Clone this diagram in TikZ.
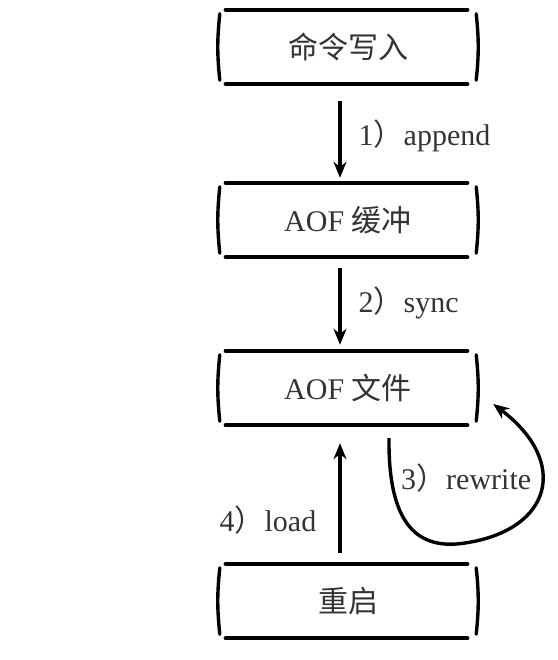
\documentclass[tikz,border=0pt]{standalone}
\usepackage{fontspec}
\setmainfont{Liberation Serif}
\newfontfamily\cjk{Noto Sans CJK SC}
\usetikzlibrary{arrows.meta}

\definecolor{ink}{HTML}{333333}

\tikzset{
  stage/.style={minimum width=256pt, minimum height=74pt, inner sep=0pt,
    text=ink, font=\fontsize{30}{32}\selectfont},
  rim/.style={line width=4.4pt, line cap=round},
  side/.style={line width=3.4pt, line cap=round},
  flow/.style={line width=3.4pt, -{Stealth[length=16pt,width=13pt]}},
  tag/.style={text=ink, font=\fontsize{30}{32}\selectfont, inner sep=0pt}
}

\begin{document}
\begin{tikzpicture}[x=1pt,y=-1pt]
        \useasboundingbox (0,0) rectangle (557,660);

        \node[stage] (cmd) at (348,47) {\cjk 命令写入};
        \node[stage] (buf) at (348,220) {AOF {\cjk 缓冲}};
        \node[stage] (file) at (348,388) {AOF {\cjk 文件}};
        \node[stage] (boot) at (348,601) {\cjk 重启};

        % hand drawn frames
        \foreach \n in {cmd,buf,file,boot} {
          \draw[rim] ([xshift=6pt]\n.north west) -- ([xshift=-9pt]\n.north east);
          \draw[rim] ([xshift=6pt]\n.south west) -- ([xshift=-9pt]\n.south east);
          \draw[side] ([yshift=-4pt]\n.north west) to[bend right=6] ([yshift=4pt]\n.south west);
          \draw[side] ([yshift=-4pt]\n.north east) to[bend left=6] ([yshift=4pt]\n.south east);
        }

        \draw[flow] ([xshift=-8pt,yshift=-17pt]cmd.south) -- ([xshift=-8pt,yshift=5pt]buf.north)
          node[tag, midway, anchor=west, xshift=17pt, yshift=4pt] (l1) {1{\cjk ）}append};
        \draw[flow] ([xshift=-8pt,yshift=-11pt]buf.south) -- ([xshift=-8pt,yshift=6pt]file.north)
          node[tag, midway, anchor=west, xshift=17pt, yshift=4pt] (l2) {2{\cjk ）}sync};
        \draw[flow] ([xshift=-8pt,yshift=11pt]boot.north) -- ([xshift=-8pt,yshift=-18pt]file.south)
          node[tag, pos=0.3, anchor=east, xshift=-22pt] (l4) {4{\cjk ）}load};

        \draw[flow] ([xshift=41pt,yshift=-13pt]file.south) .. controls (388,528) and (420,550) .. (465,543)
          .. controls (552,530) and (570,462) .. ([xshift=17pt,yshift=-16pt]file.east);
        \node[tag, anchor=west] (l3) at (401,478) {3{\cjk ）}rewrite};
\end{tikzpicture}
\end{document}
